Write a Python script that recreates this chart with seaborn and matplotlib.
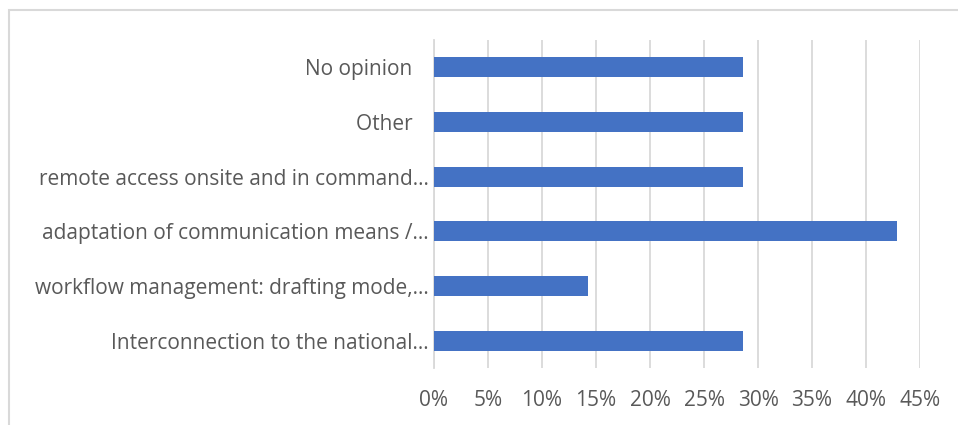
import matplotlib
matplotlib.use("Agg")
import matplotlib.pyplot as plt
import seaborn as sns
import pandas as pd
from matplotlib.ticker import PercentFormatter, MultipleLocator
from matplotlib.patches import Rectangle

categories = [
    "No opinion   ",
    "Other   ",
    "remote access onsite and in command…",
    "adaptation of communication means /…",
    "workflow management: drafting mode,…",
    "Interconnection to the national…",
]
values = [0.2857, 0.2857, 0.2857, 0.4286, 0.1429, 0.2857]

df = pd.DataFrame({"category": categories, "value": values})

sns.set_theme(style="white")
plt.rcParams["font.family"] = ["Open Sans", "DejaVu Sans"]

fig = plt.figure(figsize=(9.58, 4.25), dpi=100)
ax = fig.add_axes([434 / 958, 1 - 368 / 425, (920 - 434) / 958, (368 - 40) / 425])

sns.barplot(data=df, x="value", y="category", orient="h", color="#4472C4",
            saturation=1, width=0.36, linewidth=0, ax=ax, zorder=3)

ax.set_xlim(0, 0.45)
ax.xaxis.set_major_locator(MultipleLocator(0.05))
ax.xaxis.set_major_formatter(PercentFormatter(1.0, decimals=0))
ax.grid(axis="x", color="#d9d9d9", linewidth=1.3, zorder=0)
ax.grid(axis="y", visible=False)
ax.set_axisbelow(True)
for s in ["top", "right", "bottom"]:
    ax.spines[s].set_visible(False)
ax.spines["left"].set_color("#d9d9d9")
ax.spines["left"].set_linewidth(1.3)
ax.set_xlabel("")
ax.set_ylabel("")
ax.tick_params(axis="x", length=0, pad=16, labelsize=15, colors="#595959")
ax.tick_params(axis="y", length=0, pad=4, labelsize=15, colors="#595959")

fig.patches.append(Rectangle((9 / 958, -0.05), 1.0, 1 - 10 / 425 + 0.05,
                             transform=fig.transFigure, fill=False,
                             edgecolor="#d9d9d9", linewidth=1.5))

fig.savefig("out.png", dpi=100)
